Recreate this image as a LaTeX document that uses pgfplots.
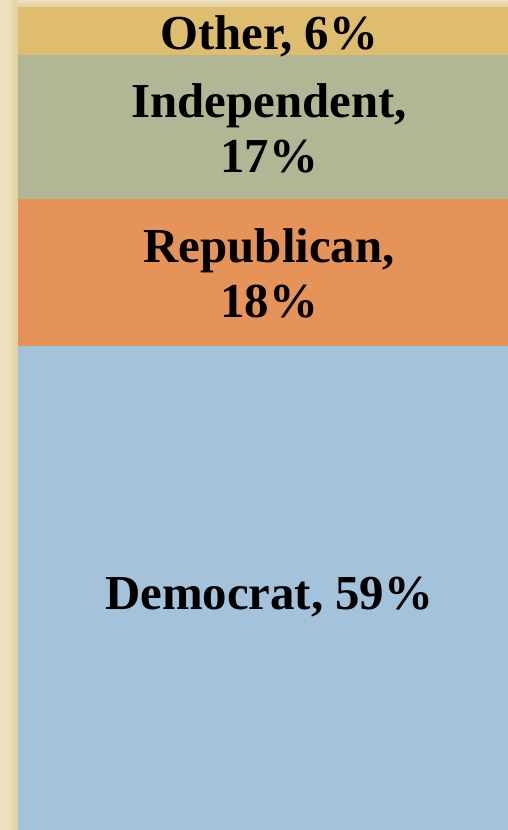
\documentclass[border=0pt]{standalone}
\usepackage{pgfplots}
\pgfplotsset{compat=1.18}
\usepackage{fontspec}
\setmainfont{Liberation Serif}
\definecolor{bgc}{HTML}{EEDFBE}
\definecolor{bgd}{HTML}{E3CFA0}
\definecolor{cOther}{HTML}{DFBD6E}
\definecolor{cInd}{HTML}{B1B794}
\definecolor{cRep}{HTML}{E6935A}
\definecolor{cDem}{HTML}{A4C2DA}
\tikzset{lbl/.style={anchor=base, inner sep=0pt, font=\fontsize{49}{54}\selectfont\bfseries}}
\begin{document}
\begin{tikzpicture}
\path[use as bounding box] (0bp,0bp) rectangle (508bp,830bp);
\fill[bgc] (0bp,0bp) rectangle (508bp,830bp);
\shade[left color=bgc, right color=bgd] (9bp,0bp) rectangle (17.5bp,830bp);
\shade[top color=bgc, bottom color=bgd] (17.5bp,823bp) rectangle (508bp,830bp);
\begin{axis}[
  at={(17.5bp,0bp)}, anchor=south west,
  scale only axis, width=490.5bp, height=823bp,
  xmin=-0.5, xmax=0.5, ymin=0, ymax=100,
  hide axis, clip=false,
  ybar stacked, bar width=1,
]
\addplot[fill=cDem, draw=none] coordinates {(0,58.8)};
\addplot[fill=cRep, draw=none] coordinates {(0,17.9)};
\addplot[fill=cInd, draw=none] coordinates {(0,17.5)};
\addplot[fill=cOther, draw=none] coordinates {(0,5.8)};
\coordinate (l1) at (axis cs:0.013,94.8);
\coordinate (l2) at (axis cs:0.013,86.6);
\coordinate (l3) at (axis cs:0.013,79.95);
\coordinate (l4) at (axis cs:0.013,68.9);
\coordinate (l5) at (axis cs:0.013,62.3);
\coordinate (l6) at (axis cs:0.013,26.85);
\end{axis}
\node[lbl] at (l1) {Other, 6\%};
\node[lbl] at (l2) {Independent,};
\node[lbl] at (l3) {17\%};
\node[lbl] at (l4) {Republican,};
\node[lbl] at (l5) {18\%};
\node[lbl] at (l6) {Democrat, 59\%};
\end{tikzpicture}
\end{document}
